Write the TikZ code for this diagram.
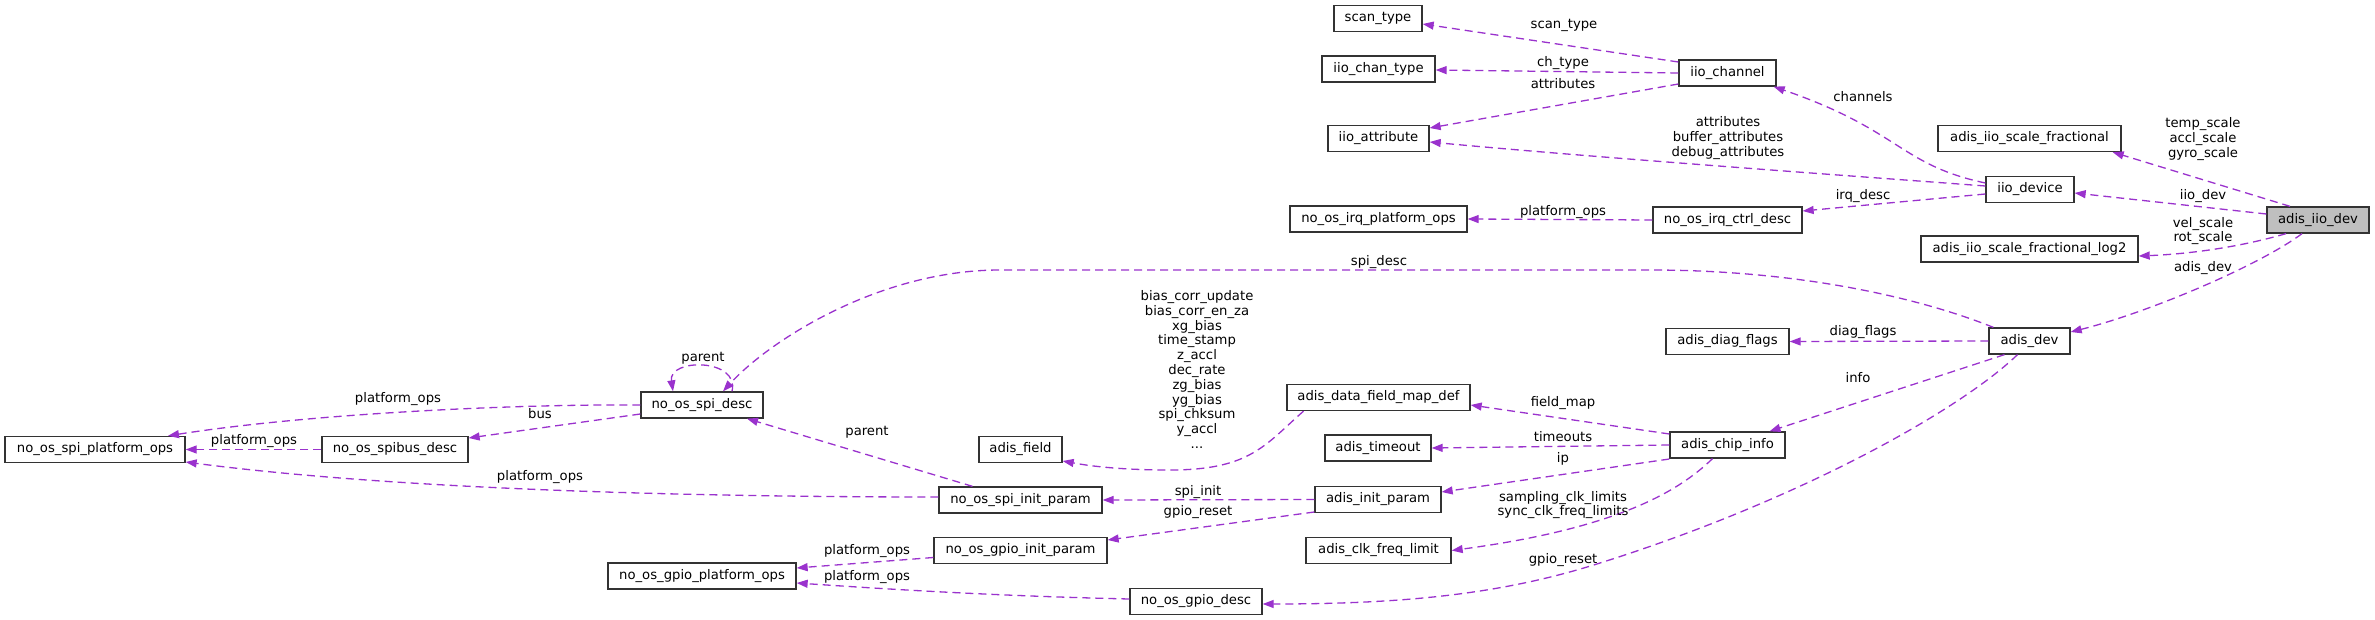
\documentclass[tikz,border=0pt]{standalone}
\usepackage{fontspec}
\setmainfont{DejaVu Sans}
\usetikzlibrary{arrows.meta}
\definecolor{edgec}{HTML}{9A32CD}
\definecolor{nodefill}{HTML}{BFBFBF}
\begin{document}
\begin{tikzpicture}[x=1pt,y=-1pt,
  every node/.style={font=\fontsize{13.2pt}{14.8pt}\selectfont},
  cls/.style={draw=black!80, line width=1.3pt, inner sep=0pt, minimum height=26pt, fill=white},
  rel/.style={draw=edgec, line width=1.3pt, dash pattern=on 8pt off 5pt, -{Triangle[length=11pt,width=8pt]}},
  lbl/.style={inner sep=0pt, align=center}]
\useasboundingbox (0,0) rectangle (2375,620);
% classes
\node[cls,fill=nodefill,minimum width=102pt] (aid) at (2318,220) {adis\_iio\_dev};
\node[cls,minimum width=183pt] (asf) at (2029.5,138.5) {adis\_iio\_scale\_fractional};
\node[cls,minimum width=88pt] (idev) at (2030,189.5) {iio\_device};
\node[cls,minimum width=217pt] (asfl) at (2029.5,249) {adis\_iio\_scale\_fractional\_log2};
\node[cls,minimum width=81pt] (adev) at (2029.5,341) {adis\_dev};
\node[cls,minimum width=88pt] (scan) at (1378,18.5) {scan\_type};
\node[cls,minimum width=113pt] (ctype) at (1378.5,69) {iio\_chan\_type};
\node[cls,minimum width=101pt] (iattr) at (1378.5,138.5) {iio\_attribute};
\node[cls,minimum width=97pt] (ichan) at (1727.5,73) {iio\_channel};
\node[cls,minimum width=177pt] (irqops) at (1378.5,219) {no\_os\_irq\_platform\_ops};
\node[cls,minimum width=149pt] (irqctrl) at (1727.5,220) {no\_os\_irq\_ctrl\_desc};
\node[cls,minimum width=123pt] (diag) at (1727.5,341.5) {adis\_diag\_flags};
\node[cls,minimum width=183pt] (dfmap) at (1378.5,397.5) {adis\_data\_field\_map\_def};
\node[cls,minimum width=83pt] (afield) at (1020.5,449.5) {adis\_field};
\node[cls,minimum width=106pt] (atime) at (1378,448) {adis\_timeout};
\node[cls,minimum width=115pt] (chip) at (1727.5,445) {adis\_chip\_info};
\node[cls,minimum width=163pt] (spiinit) at (1020.5,500) {no\_os\_spi\_init\_param};
\node[cls,minimum width=126pt] (ainit) at (1378,499.5) {adis\_init\_param};
\node[cls,minimum width=173pt] (gpioinit) at (1020.5,550.5) {no\_os\_gpio\_init\_param};
\node[cls,minimum width=145pt] (clk) at (1378.5,550.5) {adis\_clk\_freq\_limit};
\node[cls,minimum width=132pt] (gpiodesc) at (1196,601.5) {no\_os\_gpio\_desc};
\node[cls,minimum width=188pt] (gpioops) at (702,576) {no\_os\_gpio\_platform\_ops};
\node[cls,minimum width=122pt] (spidesc) at (702,405) {no\_os\_spi\_desc};
\node[cls,minimum width=146pt] (spibus) at (395,449.5) {no\_os\_spibus\_desc};
\node[cls,minimum width=180pt] (spiops) at (95,449.5) {no\_os\_spi\_platform\_ops};
% relations
\draw[rel] ([xshift=-28pt]aid.north) -- ([xshift=-9pt]asf.south east);
\draw[rel] ([yshift=6pt]aid.west) -- ([yshift=-3.5pt]idev.east);
\draw[rel] ([xshift=-32pt]aid.south) .. controls (2240,247) and (2190,254) .. ([yshift=-7pt]asfl.east);
\draw[rel] ([xshift=-16pt]aid.south) .. controls (2260,265) and (2150,312) .. ([yshift=9pt]adev.east);
\draw[rel] ([yshift=6.5pt]idev.west) .. controls (1900,165) and (1900,130) .. ([xshift=-3pt]ichan.south east);
\draw[rel] ([yshift=3.5pt]idev.west) .. controls (1880,178) and (1600,158) .. ([yshift=-3.5pt]iattr.east);
\draw[rel] ([yshift=-4.5pt]idev.west) -- ([yshift=9pt]irqctrl.east);
\draw[rel] ([yshift=11pt]ichan.west) -- ([yshift=-5.5pt]scan.east);
\draw[rel] (ichan.west) -- ([yshift=-1pt]ctype.east);
\draw[rel] ([yshift=-11pt]ichan.west) -- ([yshift=10.5pt]iattr.east);
\draw[rel] (irqctrl.west) -- (irqops.east);
\draw[rel] (adev.west) -- (diag.east);
\draw[rel] ([xshift=5pt]adev.north west) .. controls (1920,298) and (1800,270) .. (1650,270) -- (1000,270) .. controls (880,270) and (770,340) .. ([xshift=21pt]spidesc.north);
\draw[rel] ([xshift=-25pt]adev.south) -- ([xshift=42pt]chip.north);
\draw[rel] ([xshift=-12pt]adev.south) .. controls (1960,410) and (1800,500) .. (1600,563) .. controls (1500,595) and (1400,604) .. ([yshift=-2.5pt]gpiodesc.east);
\draw[rel] ([yshift=11pt]chip.west) -- ([yshift=-7.5pt]dfmap.east);
\draw[rel] (chip.west) -- (atime.east);
\draw[rel] ([yshift=-14pt]chip.west) -- ([yshift=7.5pt]ainit.east);
\draw[rel] ([xshift=-15pt]chip.south) .. controls (1680,490) and (1620,528) .. (clk.east);
\draw[rel] ([xshift=-75pt]dfmap.south) .. controls (1265,445) and (1250,470) .. (1170,470) .. controls (1120,470) and (1090,466) .. ([yshift=-11.5pt]afield.east);
\draw[rel] (ainit.west) -- (spiinit.east);
\draw[rel] ([yshift=-12.5pt]ainit.west) -- ([yshift=10.5pt]gpioinit.east);
\draw[rel] ([xshift=-48pt]spiinit.north) -- ([xshift=45pt]spidesc.south);
\draw[rel] ([yshift=3pt]spiinit.west) .. controls (700,497) and (400,490) .. ([yshift=-12.5pt]spiops.east);
\draw[rel] (spidesc.west) .. controls (500,404) and (300,415) .. ([xshift=73pt]spiops.north);
\draw[rel] ([yshift=-9pt]spidesc.west) -- ([yshift=11.5pt]spibus.east);
\draw[rel] (spibus.west) -- (spiops.east);
\draw[rel] ([xshift=30pt]spidesc.north) .. controls (740,358) and (668,358) .. ([xshift=-29pt]spidesc.north);
\draw[rel] ([yshift=-7pt]gpioinit.west) -- ([yshift=8pt]gpioops.east);
\draw[rel] ([yshift=2.5pt]gpiodesc.west) .. controls (1000,596) and (900,590) .. ([yshift=-7pt]gpioops.east);
% labels
\node[lbl] (t1) at (2203,139) {temp\_scale\\accl\_scale\\gyro\_scale};
\node[lbl] (t2) at (2203,196) {iio\_dev};
\node[lbl] (t3) at (2203,231) {vel\_scale\\rot\_scale};
\node[lbl] (t4) at (2203,268) {adis\_dev};
\node[lbl] (t5) at (1863,97) {channels};
\node[lbl] (t6) at (1728,138) {attributes\\buffer\_attributes\\debug\_attributes};
\node[lbl] (t7) at (1863,196) {irq\_desc};
\node[lbl] (t8) at (1564,25) {scan\_type};
\node[lbl] (t9) at (1563,63) {ch\_type};
\node[lbl] (t10) at (1563,84) {attributes};
\node[lbl] (t11) at (1563,212) {platform\_ops};
\node[lbl] (t12) at (1863,332) {diag\_flags};
\node[lbl] (t13) at (1379,262) {spi\_desc};
\node[lbl] (t14) at (1858,378) {info};
\node[lbl] (t15) at (1563,560) {gpio\_reset};
\node[lbl] (t16) at (1563,403) {field\_map};
\node[lbl] (t17) at (1563,437) {timeouts};
\node[lbl] (t18) at (1563,459) {ip};
\node[lbl] (t19) at (1563,505) {sampling\_clk\_limits\\sync\_clk\_freq\_limits};
\node[lbl] (t20) at (1197,369.5) {bias\_corr\_update\\bias\_corr\_en\_za\\xg\_bias\\time\_stamp\\z\_accl\\dec\_rate\\zg\_bias\\yg\_bias\\spi\_chksum\\y\_accl\\...};
\node[lbl] (t21) at (1198,492) {spi\_init};
\node[lbl] (t22) at (1198,512) {gpio\_reset};
\node[lbl] (t23) at (867,432) {parent};
\node[lbl] (t24) at (540,477) {platform\_ops};
\node[lbl] (t25) at (398,399) {platform\_ops};
\node[lbl] (t26) at (540,414) {bus};
\node[lbl] (t27) at (254,441) {platform\_ops};
\node[lbl] (t28) at (703,358) {parent};
\node[lbl] (t29) at (867,551) {platform\_ops};
\node[lbl] (t30) at (867,577) {platform\_ops};
\end{tikzpicture}
\end{document}
